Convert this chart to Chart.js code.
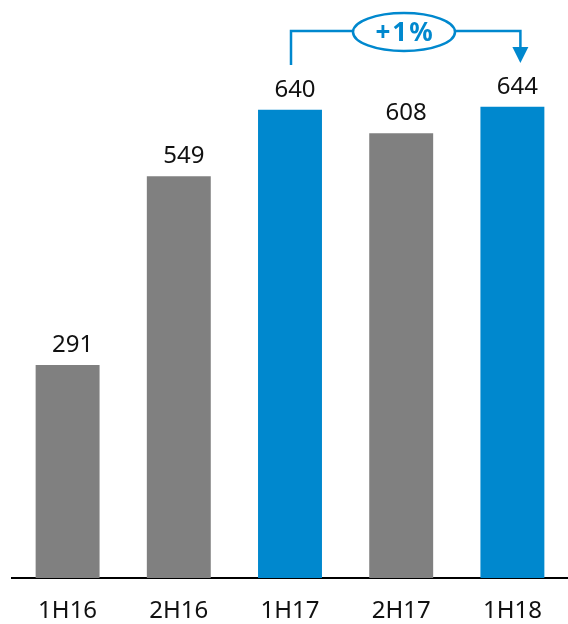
<!DOCTYPE html>
<html>
<head>
<meta charset="utf-8">
<script src="https://cdn.jsdelivr.net/npm/chart.js@4"></script>
<style>
  html, body { margin: 0; padding: 0; background: #fff; }
  #wrap { width: 568px; height: 624px; }
</style>
</head>
<body>
<div id="wrap"><canvas id="chart"></canvas></div>
<script>
// chart data
const categories = ['1H16', '2H16', '1H17', '2H17', '1H18'];
const values = [291, 549, 640, 608, 644];
const highlighted = [false, false, true, false, true];
const changeLabel = '+1%';

const GREY = '#808080';
const BLUE = '#0088ce';
const FONT = '"Noto Sans", "Open Sans", sans-serif';

// values above the bars (sitting a little right of centre, like the original)
const valueLabels = {
    id: 'valueLabels',
    afterDatasetsDraw(chart) {
        const ctx = chart.ctx;
        const meta = chart.getDatasetMeta(0);
        ctx.save();
        ctx.font = '24px ' + FONT;
        ctx.fillStyle = '#111';
        ctx.textAlign = 'center';
        ctx.textBaseline = 'alphabetic';
        meta.data.forEach((bar, i) => {
            ctx.fillText(String(values[i]), bar.x + 5, bar.y - 13);
        });
        ctx.restore();
    }
};

// bracket with +1% bubble between 1H17 and 1H18
const changeBracket = {
    id: 'changeBracket',
    afterDatasetsDraw(chart) {
        const ctx = chart.ctx;
        const meta = chart.getDatasetMeta(0);
        const from = meta.data[2];
        const to = meta.data[4];
        const x1 = from.x + 1;
        const x2 = to.x + 8;
        const yTop = 31;
        const yStart = 65;
        const cx = 404;
        const rx = 51, ry = 19;
        ctx.save();
        ctx.strokeStyle = BLUE;
        ctx.lineWidth = 2.5;
        ctx.beginPath();
        ctx.moveTo(x1, yStart);
        ctx.lineTo(x1, yTop);
        ctx.lineTo(cx - rx, yTop);
        ctx.moveTo(cx + rx, yTop);
        ctx.lineTo(x2, yTop);
        ctx.lineTo(x2, 48);
        ctx.stroke();
        // arrow head
        ctx.fillStyle = BLUE;
        ctx.beginPath();
        ctx.moveTo(x2 - 8, 47);
        ctx.lineTo(x2 + 8, 47);
        ctx.lineTo(x2, 63);
        ctx.closePath();
        ctx.fill();
        // ellipse
        ctx.beginPath();
        ctx.ellipse(cx, 32, rx, ry, 0, 0, Math.PI * 2);
        ctx.fillStyle = '#fff';
        ctx.fill();
        ctx.lineWidth = 2.5;
        ctx.stroke();
        ctx.fillStyle = BLUE;
        ctx.font = 'bold 26px ' + FONT;
        ctx.letterSpacing = '2px';
        ctx.textAlign = 'center';
        ctx.textBaseline = 'alphabetic';
        ctx.fillText(changeLabel, cx + 1, 41);
        ctx.restore();
    }
};

new Chart(document.getElementById('chart'), {
    type: 'bar',
    data: {
        labels: categories,
        datasets: [{
            data: values,
            backgroundColor: highlighted.map(h => h ? BLUE : GREY),
            barPercentage: 0.575,
            categoryPercentage: 1
        }]
    },
    options: {
        responsive: true,
        maintainAspectRatio: false,
        animation: false,
        layout: { padding: { left: 12, right: 0, top: 0, bottom: 0 } },
        plugins: {
            legend: { display: false },
            tooltip: { enabled: false }
        },
        scales: {
            x: {
                grid: { display: false, drawTicks: false },
                border: { display: true, color: '#000', width: 2 },
                ticks: {
                    color: '#111',
                    padding: 19,
                    font: { family: FONT, size: 24 }
                },
                afterFit(scale) { scale.height = 46; }
            },
            y: {
                display: false,
                min: 0,
                max: 790
            }
        }
    },
    plugins: [valueLabels, changeBracket]
});
</script>
</body>
</html>
